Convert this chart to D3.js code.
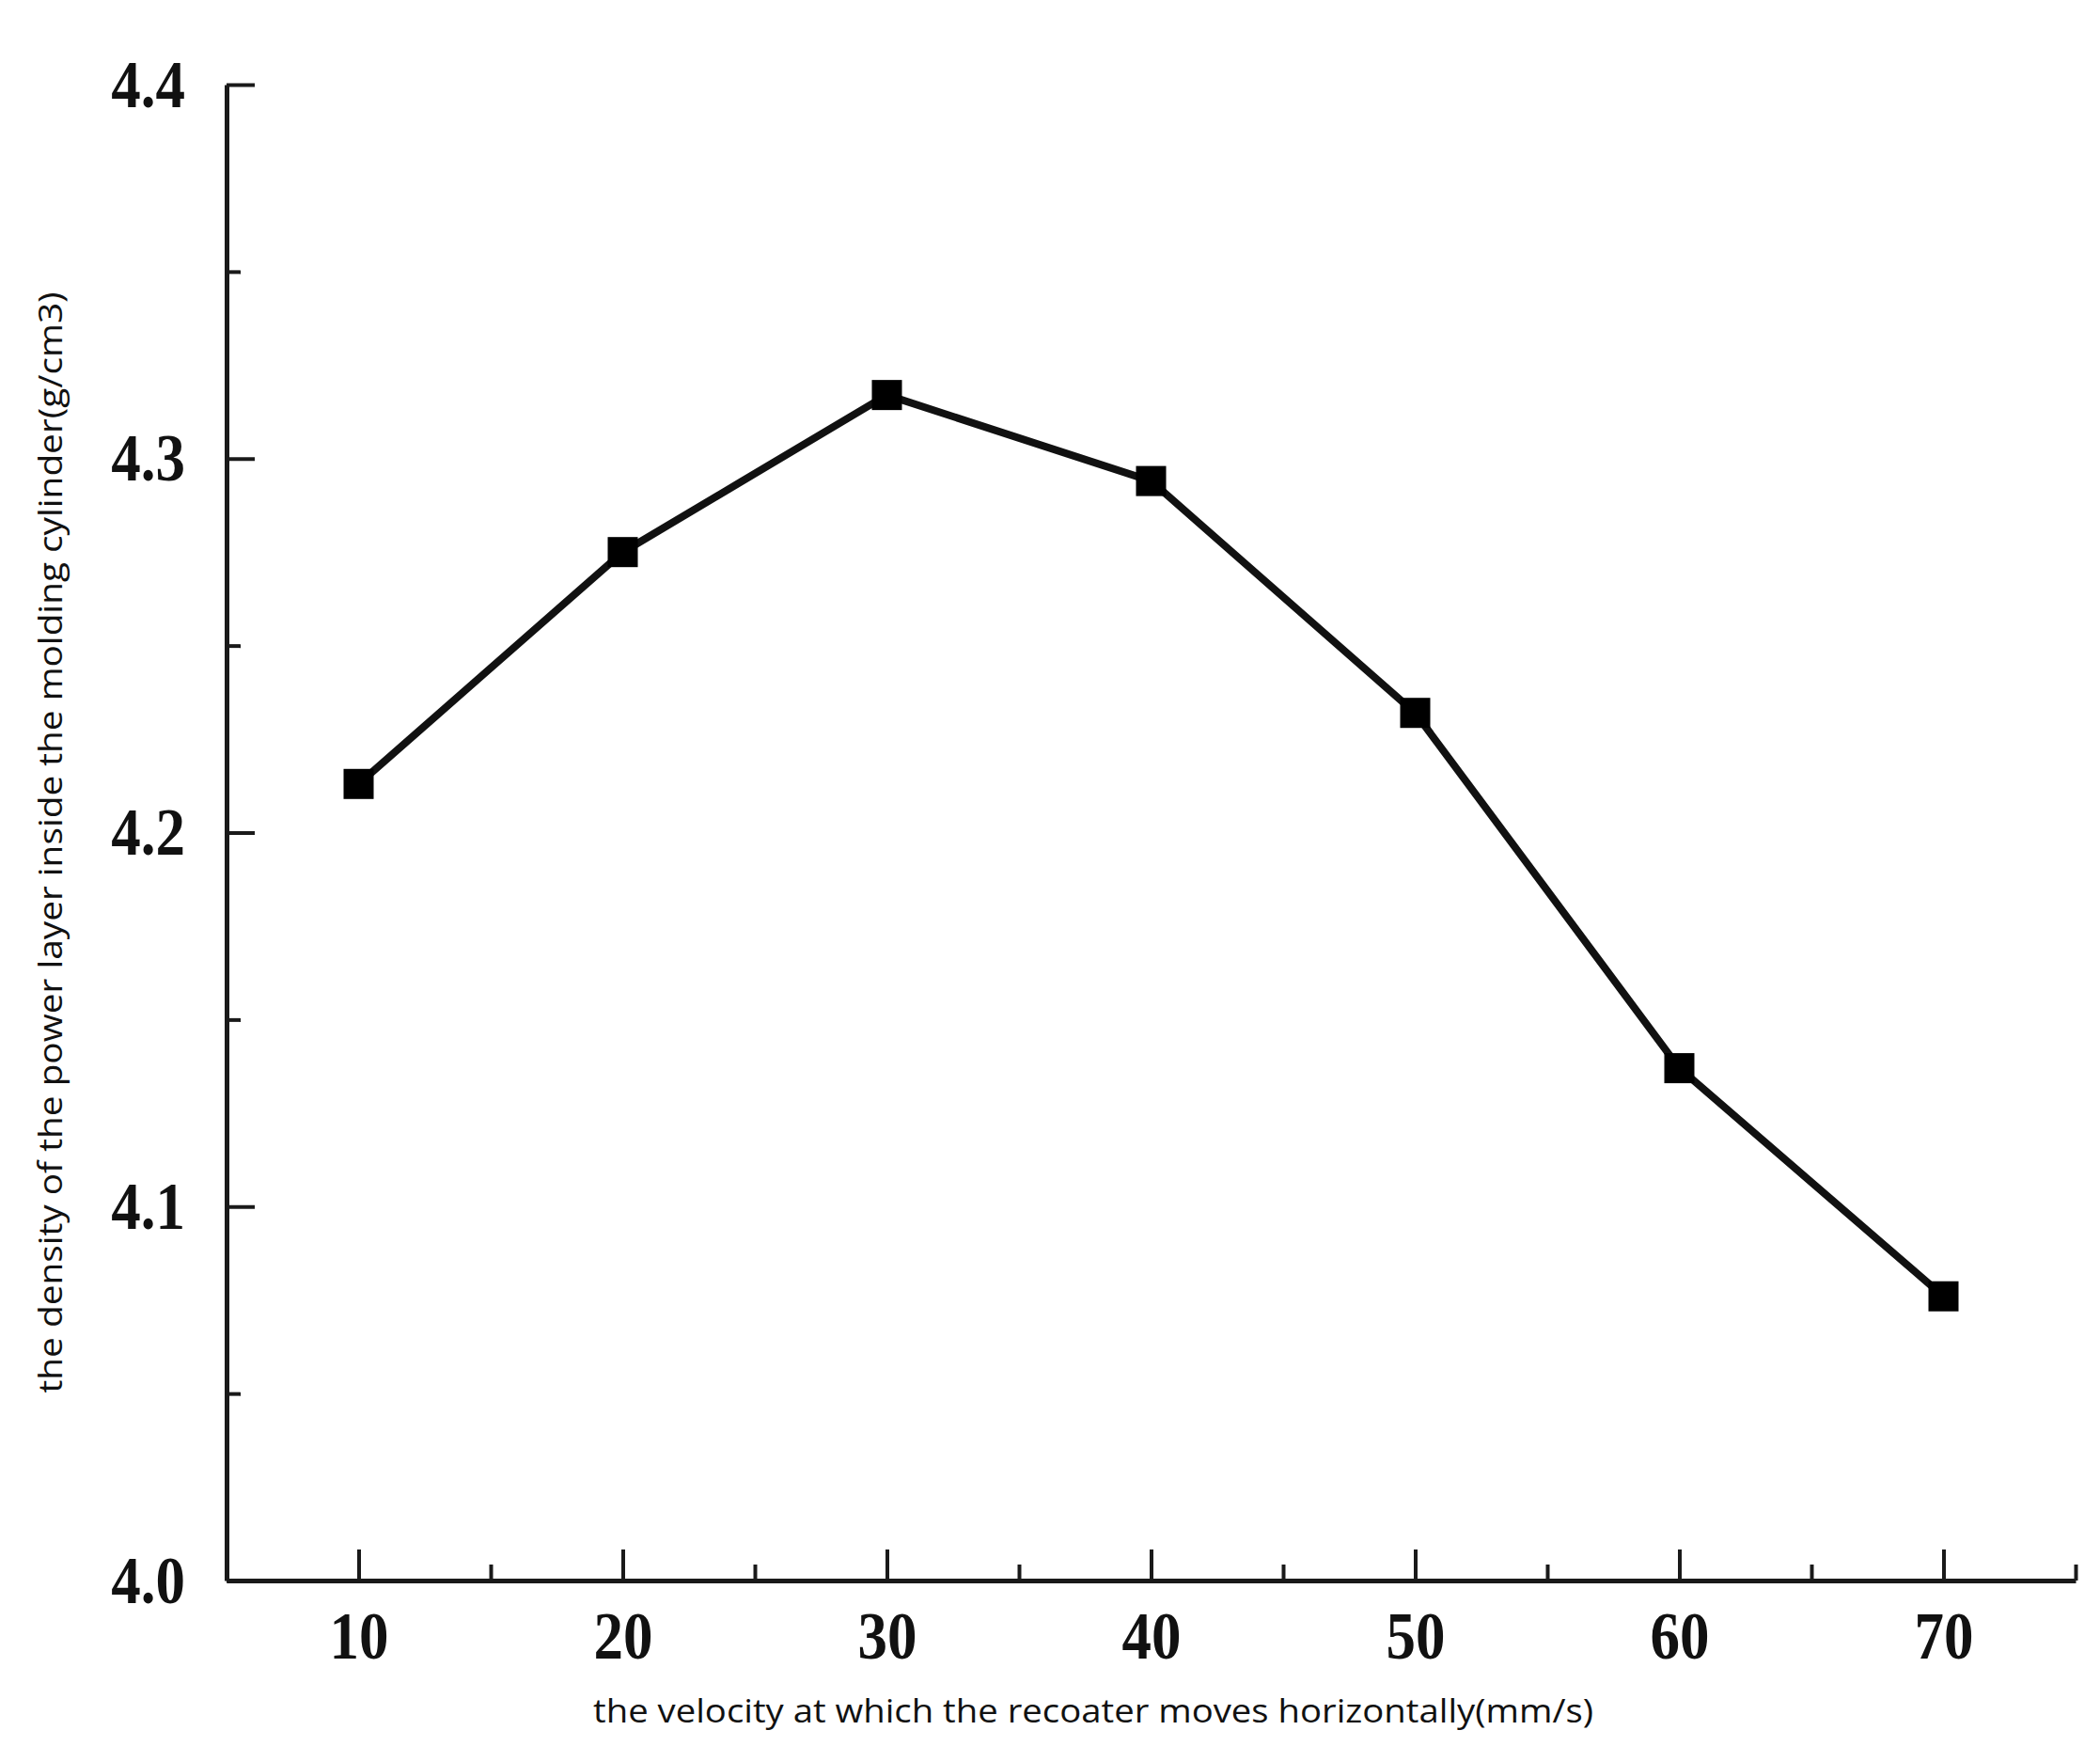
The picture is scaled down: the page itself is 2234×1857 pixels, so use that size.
<!DOCTYPE html>
<html>
<head>
<meta charset="utf-8">
<script src="https://cdn.jsdelivr.net/npm/d3@7"></script>
<style>
  html, body { margin: 0; padding: 0; background: #fff; }
  svg { display: block; }
</style>
</head>
<body>
<svg id="chart" width="2234" height="1857"></svg>
<script>
// ---- data ----
const velocities = [10, 20, 30, 40, 50, 60, 70];
const densities = [4.213, 4.275, 4.317, 4.294, 4.232, 4.137, 4.076];
const xMajorTicks = [10, 20, 30, 40, 50, 60, 70];
const xMinorTicks = [15, 25, 35, 45, 55, 65, 75];
const yMajorTicks = [4.0, 4.1, 4.2, 4.3, 4.4];
const yMinorTicks = [4.05, 4.15, 4.25, 4.35];
const xTitle = "the velocity at which the recoater moves horizontally(mm/s)";
const yTitle = "the density of the power layer inside the molding cylinder(g/cm3)";

const svg = d3.select("#chart");
const x = d3.scaleLinear().domain([5, 75]).range([241, 2208]);
const y = d3.scaleLinear().domain([4.0, 4.4]).range([1681, 90]);
const ink = "#1a1a1a";
const tickFont = "'Liberation Serif', 'Times New Roman', serif";
const titleFont = "'Liberation Sans Narrow', 'Open Sans', 'DejaVu Sans Condensed', sans-serif";

// minor ticks (x)
svg.append("g").attr("transform", `translate(0,${y(4.0)})`)
  .call(d3.axisBottom(x).tickValues(xMinorTicks).tickSize(-17).tickFormat(""))
  .call(g => g.select(".domain").remove())
  .call(g => g.selectAll(".tick line").attr("stroke", ink).attr("stroke-width", 4));

// major x axis
const gx = svg.append("g").attr("transform", `translate(0,${y(4.0)})`)
  .call(d3.axisBottom(x).tickValues(xMajorTicks).tickSize(-33).tickSizeOuter(0).tickPadding(0).tickFormat(d3.format("d")));
gx.select(".domain").attr("stroke", ink).attr("stroke-width", 5);
gx.selectAll(".tick line").attr("stroke", ink).attr("stroke-width", 4);
gx.selectAll(".tick text")
  .attr("y", 72).attr("dy", 0)
  .attr("transform", "scale(1,1.15)")
  .attr("fill", "#111")
  .style("font-family", tickFont).style("font-weight", "bold").style("font-size", "63px");

// minor ticks (y)
svg.append("g").attr("transform", `translate(${x(5)},0)`)
  .call(d3.axisLeft(y).tickValues(yMinorTicks).tickSize(-15).tickFormat(""))
  .call(g => g.select(".domain").remove())
  .call(g => g.selectAll(".tick line").attr("stroke", ink).attr("stroke-width", 4));

// major y axis
const gy = svg.append("g").attr("transform", `translate(${x(5)},0)`)
  .call(d3.axisLeft(y).tickValues(yMajorTicks).tickSize(-30).tickSizeOuter(0).tickPadding(0).tickFormat(d3.format(".1f")));
gy.select(".domain").attr("stroke", ink).attr("stroke-width", 5);
gy.selectAll(".tick line").attr("stroke", ink).attr("stroke-width", 4);
gy.selectAll(".tick text")
  .attr("x", -44).attr("dy", "0.32em")
  .attr("transform", "scale(1,1.15)")
  .attr("fill", "#111")
  .style("font-family", tickFont).style("font-weight", "bold").style("font-size", "63px");

// line
const pts = velocities.map((v, i) => [v, densities[i]]);
svg.append("path")
  .datum(pts)
  .attr("fill", "none")
  .attr("stroke", "#111")
  .attr("stroke-width", 8)
  .attr("stroke-linejoin", "round")
  .attr("d", d3.line().x(d => x(d[0])).y(d => y(d[1])));

// markers
const ms = 32;
svg.append("g").selectAll("rect")
  .data(pts).join("rect")
  .attr("x", d => x(d[0]) - ms / 2)
  .attr("y", d => y(d[1]) - ms / 2)
  .attr("width", ms).attr("height", ms)
  .attr("fill", "#000");

// titles
svg.append("text")
  .attr("x", 1163).attr("y", 1832)
  .attr("text-anchor", "middle")
  .attr("textLength", 1064).attr("lengthAdjust", "spacingAndGlyphs")
  .style("font-family", titleFont).style("font-size", "34px").attr("fill", "#111")
  .text(xTitle);

svg.append("text")
  .attr("transform", "translate(66,896) rotate(-90)")
  .attr("text-anchor", "middle")
  .attr("textLength", 1171).attr("lengthAdjust", "spacingAndGlyphs")
  .style("font-family", titleFont).style("font-size", "34px").attr("fill", "#111")
  .text(yTitle);
</script>
</body>
</html>
